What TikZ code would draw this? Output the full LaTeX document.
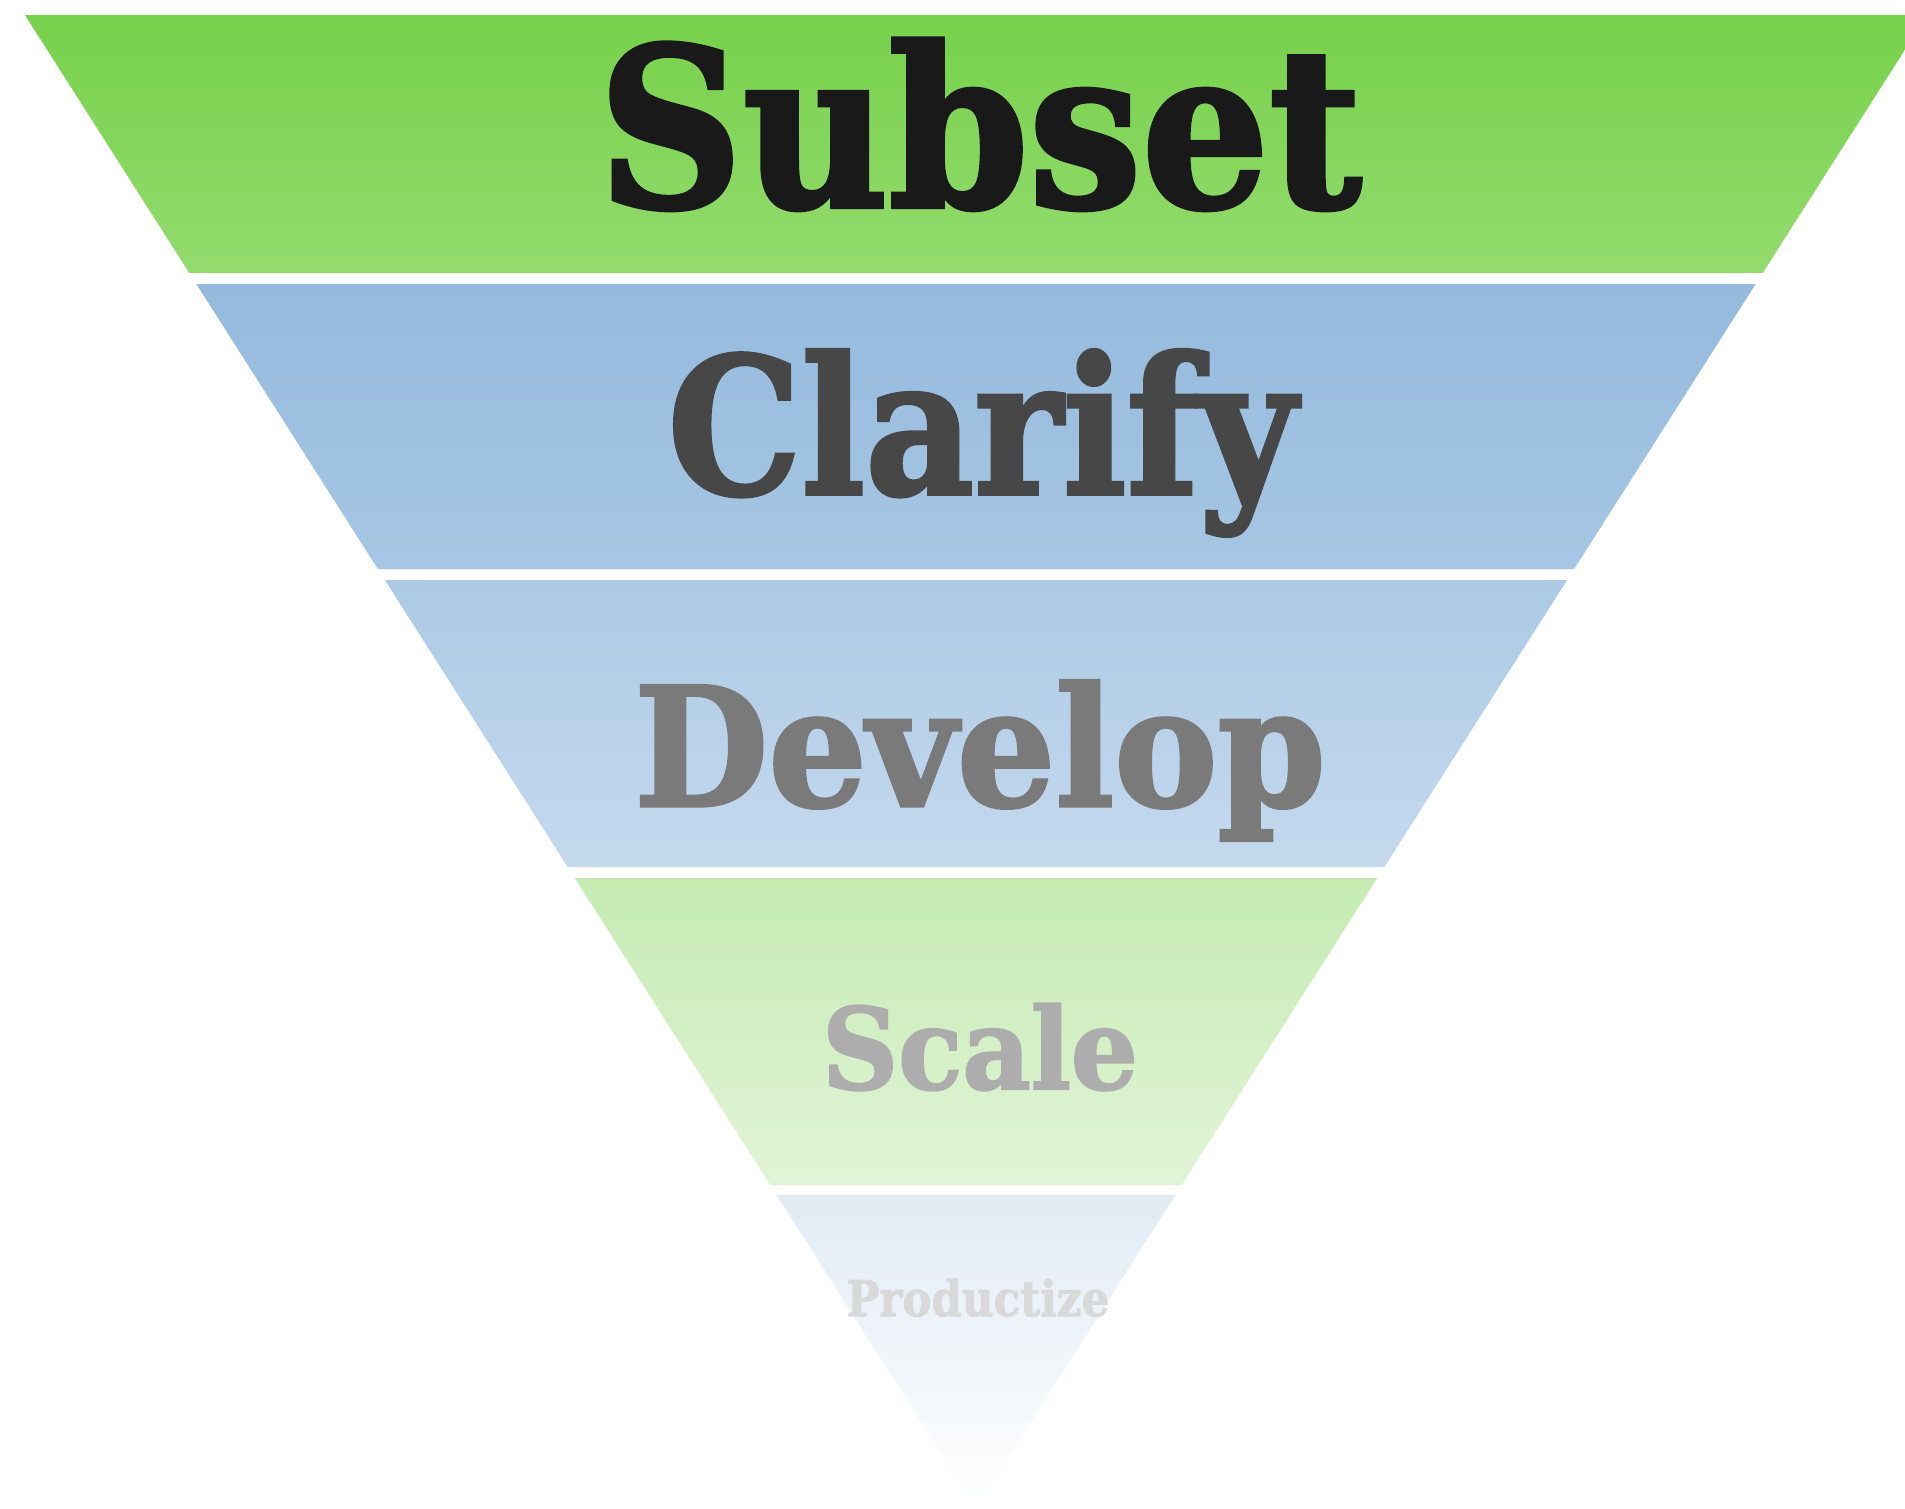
\documentclass[tikz,border=0pt]{standalone}
\usepackage{fontspec}
\setmainfont{DejaVu Serif}
\newfontfamily\slabfont{DejaVu Serif Bold}[FakeBold=2]

\definecolor{subsettop}{HTML}{76D14A}
\definecolor{subsetbot}{HTML}{93DB6E}
\definecolor{clarifytop}{HTML}{95BADD}
\definecolor{clarifybot}{HTML}{A6C7E4}
\definecolor{developtop}{HTML}{ACCAE5}
\definecolor{developbot}{HTML}{C4D9EE}
\definecolor{scaletop}{HTML}{C5EBB2}
\definecolor{scalebot}{HTML}{E1F4D7}
\definecolor{producttop}{HTML}{E1EBF5}
\definecolor{productbot}{HTML}{FFFFFF}

\begin{document}
\begin{tikzpicture}[
    x=0.01cm, y=-0.01cm,
    stage/.style={anchor=base, inner sep=0pt, font=\slabfont},
    band/.style={draw=none}
]
    \useasboundingbox (0,0) rectangle (1905,1508);
    \clip (0,0) rectangle (1905,1508);

    % Funnel bands (apex at 976,1508)
    \foreach \yt/\yb/\ct/\cb in {15/273/subsettop/subsetbot,
                                 284/569/clarifytop/clarifybot,
                                 580/867/developtop/developbot,
                                 878/1185/scaletop/scalebot,
                                 1195/1508/producttop/productbot}{
        \shade[band, top color=\ct, bottom color=\cb]
            ({976-(1508-\yt)*0.637}, \yt) -- ({976+(1508-\yt)*0.637}, \yt)
            -- ({976+(1508-\yb)*0.637}, \yb) -- ({976-(1508-\yb)*0.637}, \yb) -- cycle;
    }

    % Stage labels
    \node [stage, text=black!90, font=\slabfont\fontsize{63}{70}\selectfont] (subset) at (980,207) {\scalebox{0.905}[1]{Subset}};
    \node [stage, text=black!72, font=\slabfont\fontsize{54}{60}\selectfont] (clarify) at (982,494) {\scalebox{0.885}[1]{Clarify}};
    \node [stage, text=black!52, font=\slabfont\fontsize{47}{52}\selectfont] (develop) at (980,806) {\scalebox{0.937}[1]{Develop}};
    \node [stage, text=black!32, font=\slabfont\fontsize{32}{36}\selectfont] (scale) at (980,1089) {\scalebox{0.937}[1]{Scale}};
    \node [stage, text=black!15, font=\slabfont\fontsize{14}{16}\selectfont] (productize) at (978,1316) {\scalebox{0.885}[1]{Productize}};
\end{tikzpicture}
\end{document}
